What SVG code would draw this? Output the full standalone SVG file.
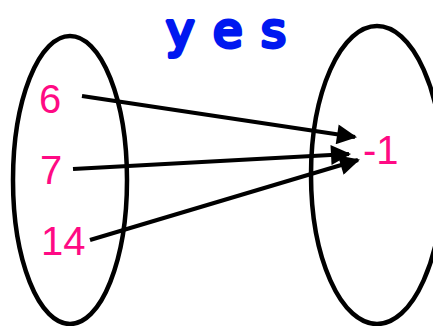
<svg xmlns="http://www.w3.org/2000/svg" width="433" height="326" viewBox="0 0 433 326">
<style>
.set{fill:none;stroke:#000;stroke-width:4.5}
.num{font-family:"Liberation Sans",Arial,sans-serif;font-size:40px;fill:#FF0A84}
.arr{stroke:#000;stroke-width:4;fill:none;marker-end:url(#ah)}
</style>
<defs>
<marker id="ah" viewBox="0 0 10 10" refX="9" refY="5" markerWidth="5.5" markerHeight="5" markerUnits="strokeWidth" orient="auto">
<path d="M0,0 L10,5 L0,10 z" fill="#000"/>
</marker>
</defs>
<rect width="433" height="326" fill="#fff"/>
<text x="166" y="47" font-family="'DejaVu Sans',sans-serif" font-size="48" fill="#0018F0" stroke="#0018F0" stroke-width="4" stroke-linejoin="round" textLength="120" lengthAdjust="spacing">yes</text>
<g id="domain">
<ellipse class="set" cx="70" cy="180" rx="57" ry="144"/>
<text class="num" x="39" y="113">6</text>
<text class="num" x="40" y="184">7</text>
<text class="num" x="41" y="255">14</text>
</g>
<g id="range">
<ellipse class="set" cx="377" cy="175" rx="66" ry="149"/>
<text class="num" x="363" y="164">-1</text>
</g>
<g id="connectors">
<line class="arr" x1="82" y1="96" x2="355" y2="137"/>
<line class="arr" x1="73" y1="169" x2="349" y2="154"/>
<line class="arr" x1="90" y1="240" x2="358" y2="160"/>
</g>
</svg>
